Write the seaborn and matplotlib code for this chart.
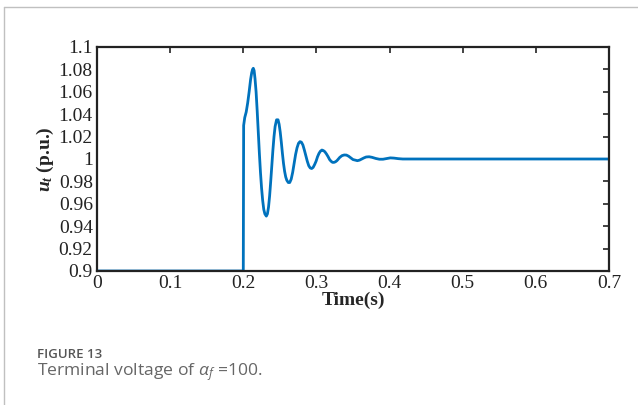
import matplotlib
matplotlib.use('Agg')
import matplotlib.pyplot as plt
import seaborn as sns
import pandas as pd
from matplotlib.lines import Line2D

# values
time_s = [0.0, 0.1, 0.2, 0.2005, 0.202, 0.204, 0.206, 0.208, 0.210, 0.2115, 0.2127,
          0.2137, 0.2148, 0.216, 0.2175, 0.219, 0.2205, 0.222, 0.2235, 0.225, 0.2265,
          0.228, 0.2295, 0.2315, 0.233, 0.2345, 0.236, 0.2375, 0.239, 0.2405, 0.242,
          0.2435, 0.2455, 0.2475, 0.249, 0.2505, 0.252, 0.2535, 0.255, 0.2565, 0.258,
          0.2595, 0.2615, 0.2635, 0.2655, 0.2675, 0.2695, 0.2715, 0.2735, 0.2755,
          0.2775, 0.2795, 0.2815, 0.2835, 0.2855, 0.2875, 0.2895, 0.2915, 0.2935,
          0.2955, 0.2975, 0.2995, 0.3015, 0.3035, 0.3055, 0.3075, 0.3095, 0.3115,
          0.3137, 0.316, 0.318, 0.320, 0.322, 0.324, 0.326, 0.328, 0.330, 0.332,
          0.335, 0.338, 0.341, 0.344, 0.347, 0.350, 0.353, 0.356, 0.359, 0.362,
          0.365, 0.368, 0.372, 0.376, 0.381, 0.386, 0.391, 0.396, 0.401, 0.406,
          0.412, 0.418, 0.425, 0.432, 0.44, 0.45, 0.5, 0.6, 0.7]
voltage_pu = [0.9, 0.9, 0.9, 1.030, 1.037, 1.042, 1.050, 1.060, 1.071, 1.077, 1.080,
              1.081, 1.079, 1.072, 1.060, 1.043, 1.024, 1.005, 0.988, 0.974, 0.963,
              0.955, 0.951, 0.949, 0.951, 0.957, 0.967, 0.980, 0.994, 1.008, 1.020,
              1.029, 1.035, 1.035, 1.031, 1.024, 1.015, 1.005, 0.996, 0.989, 0.984,
              0.981, 0.979, 0.979, 0.982, 0.988, 0.996, 1.004, 1.010, 1.014, 1.0155,
              1.015, 1.0125, 1.008, 1.003, 0.998, 0.994, 0.992, 0.9915, 0.9925, 0.995,
              0.998, 1.002, 1.005, 1.007, 1.008, 1.0075, 1.0065, 1.0045, 1.002, 0.9995,
              0.998, 0.997, 0.997, 0.9975, 0.9985, 1.000, 1.0015, 1.003, 1.0036,
              1.0035, 1.0025, 1.001, 0.9995, 0.999, 0.9985, 0.999, 1.000, 1.001,
              1.0018, 1.002, 1.0015, 1.0005, 0.9998, 0.9998, 1.0004, 1.001, 1.0008,
              1.0003, 1.0, 1.0, 1.0, 1.0, 1.0, 1.0, 1.0, 1.0]

x_ticks = [0, 0.1, 0.2, 0.3, 0.4, 0.5, 0.6, 0.7]
x_labels = ['0', '0.1', '0.2', '0.3', '0.4', '0.5', '0.6', '0.7']
y_ticks = [0.9, 0.92, 0.94, 0.96, 0.98, 1.0, 1.02, 1.04, 1.06, 1.08, 1.1]
y_labels = ['0.9', '0.92', '0.94', '0.96', '0.98', '1', '1.02', '1.04', '1.06', '1.08', '1.1']

sns.set_style('white')
plt.rcParams['font.family'] = ['Liberation Serif', 'DejaVu Serif']
plt.rcParams['mathtext.fontset'] = 'custom'
plt.rcParams['mathtext.it'] = 'Liberation Serif:italic:bold'
plt.rcParams['mathtext.rm'] = 'Liberation Serif:bold'
plt.rcParams['mathtext.sf'] = 'Open Sans:italic'

df = pd.DataFrame({'t': time_s, 'u': voltage_pu})

fig = plt.figure(figsize=(6.38, 4.05), dpi=100)
W, H = 638, 405
ax = fig.add_axes([97 / W, 1 - 271 / H, (609 - 97) / W, (271 - 47) / H])

sns.lineplot(data=df, x='t', y='u', ax=ax, color='#0072BD', linewidth=2.0,
             estimator=None, sort=False)

ax.set_xlim(0, 0.7)
ax.set_ylim(0.9, 1.1)
ax.set_xticks(x_ticks)
ax.set_xticklabels(x_labels)
ax.set_yticks(y_ticks)
ax.set_yticklabels(y_labels)
ax.tick_params(direction='in', length=4, width=1.2, labelsize=14, colors='#222222',
               top=True, right=True, pad=3)
for s in ax.spines.values():
    s.set_visible(True)
    s.set_color('#222222')
    s.set_linewidth(1.6)

ax.set_xlabel('Time(s)', fontsize=14, fontweight='bold', labelpad=0)
ax.set_ylabel(r'$u_t$ (p.u.)', fontsize=14, fontweight='bold', labelpad=2)

# page frame and caption
fig.add_artist(Line2D([4 / W, 4 / W], [0, 1 - 7 / H], color='#c0c0c0', lw=1))
fig.add_artist(Line2D([4 / W, 1], [1 - 7 / H, 1 - 7 / H], color='#c0c0c0', lw=1))
fig.text(37 / W, 1 - 358 / H, 'FIGURE 13', family='Open Sans', fontweight='semibold',
         fontsize=9.5, color='#555555', va='baseline')
fig.text(37 / W, 1 - 375 / H, r'Terminal voltage of $\mathsf{\alpha_f}$ =100.',
         family='Open Sans', fontsize=12.6, color='#666666', va='baseline')

fig.savefig('out.png', dpi=100)
